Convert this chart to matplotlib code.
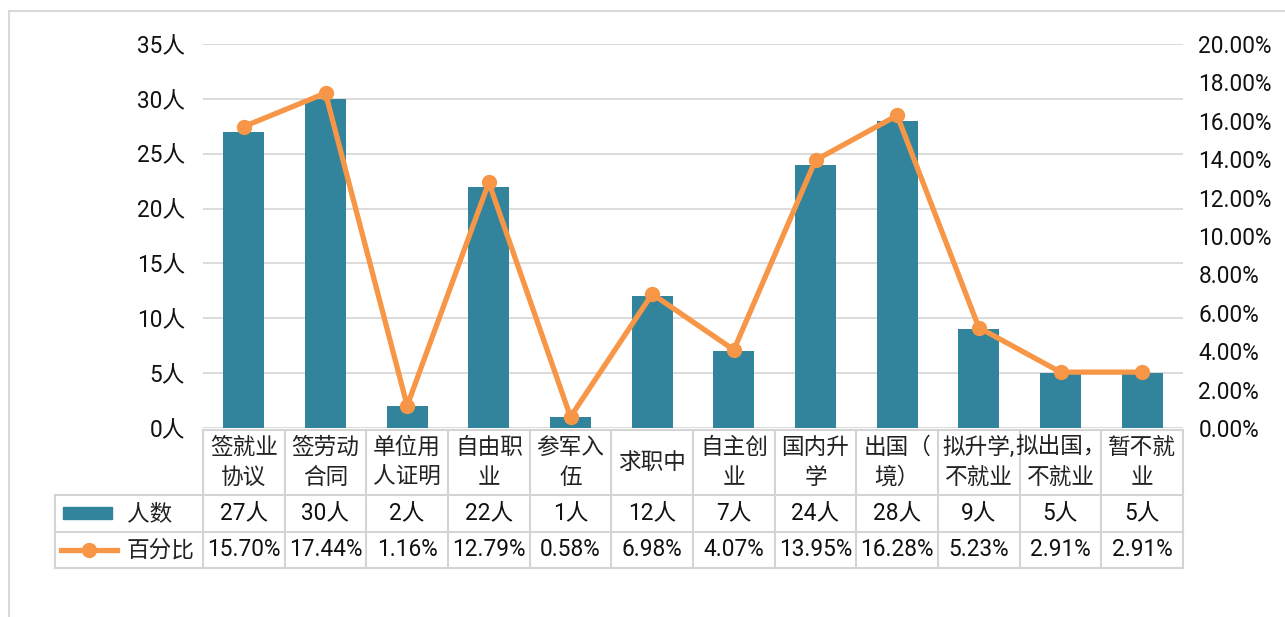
import matplotlib
matplotlib.use("Agg")
import matplotlib.pyplot as plt
from matplotlib.ticker import FuncFormatter, MultipleLocator
from matplotlib.patches import Rectangle

plt.rcParams['font.family'] = ['Roboto', 'Noto Sans CJK SC', 'DejaVu Sans']

categories = ["签就业\n协议", "签劳动\n合同", "单位用\n人证明", "自由职\n业", "参军入\n伍", "求职中",
              "自主创\n业", "国内升\n学", "出国（\n境）", "拟升学,\n不就业", "拟出国，\n不就业", "暂不就\n业"]
counts = [27, 30, 2, 22, 1, 12, 7, 24, 28, 9, 5, 5]
percents = [15.70, 17.44, 1.16, 12.79, 0.58, 6.98, 4.07, 13.95, 16.28, 5.23, 2.91, 2.91]
series_names = ["人数", "百分比"]

BAR_C = "#31849B"
LINE_C = "#F79646"
GRID_C = "#D9D9D9"
FS = 16.3

W, H = 1285, 617
fig = plt.figure(figsize=(W / 100, H / 100), dpi=100)

X0, X1 = 203, 1183
YT, YB = 44, 428
ax = fig.add_axes([X0 / W, 1 - YB / H, (X1 - X0) / W, (YB - YT) / H])
n = len(categories)
xs = list(range(n))
ax.bar(xs, counts, width=0.5, color=BAR_C, zorder=2)
ax.set_xlim(-0.5, n - 0.5)
ax.set_ylim(0, 35)
ax.yaxis.set_major_locator(MultipleLocator(5))
ax.yaxis.set_major_formatter(FuncFormatter(lambda v, p: f"{int(v)}人"))
ax.grid(axis='y', color=GRID_C, lw=1.3, zorder=0)
for s in ax.spines.values():
    s.set_visible(False)
ax.tick_params(axis='y', length=0, labelsize=FS, pad=13, labelcolor="#111111")
ax.set_xticks([])

ax2 = ax.twinx()
ax2.plot(xs, percents, color=LINE_C, lw=3.8, marker='o', ms=10, zorder=3)
ax2.set_ylim(0, 20)
ax2.yaxis.set_major_locator(MultipleLocator(2))
ax2.yaxis.set_major_formatter(FuncFormatter(lambda v, p: f"{v:.2f}%"))
for s in ax2.spines.values():
    s.set_visible(False)
ax2.tick_params(axis='y', length=0, labelsize=FS, pad=11, labelcolor="#111111")
ax.set_zorder(1)
ax2.set_zorder(2)

# overlay for table and frame
ov = fig.add_axes([0, 0, 1, 1], zorder=0)
ov.set_xlim(0, W)
ov.set_ylim(H, 0)
ov.axis('off')

# outer frame
ov.plot([8.5, 8.5], [11, H], color=GRID_C, lw=1.5)
ov.plot([8.5, W], [11, 11], color=GRID_C, lw=1.5)

TC = "#D4D4D4"
LX = 55
y_head, y_r1, y_r2, y_end = 430, 495, 532, 568
cw = (X1 - X0) / n
ov.plot([X0, X1], [y_head, y_head], color=TC, lw=1.5)
for y in (y_r1, y_r2, y_end):
    ov.plot([LX, X1], [y, y], color=TC, lw=1.5)
ov.plot([LX, LX], [y_r1, y_end], color=TC, lw=1.5)
for i in range(n + 1):
    x = X0 + i * cw
    ov.plot([x, x], [y_head, y_end], color=TC, lw=1.5)

for i in range(n):
    cx = X0 + (i + 0.5) * cw
    ov.text(cx, (y_head + y_r1) / 2 , categories[i], ha='center', va='center',
            fontsize=FS, linespacing=1.4, color="#222222")
    ov.text(cx, (y_r1 + y_r2) / 2, f"{counts[i]}人", ha='center', va='center', fontsize=FS, color="#111111")
    ov.text(cx, (y_r2 + y_end) / 2, f"{percents[i]:.2f}%", ha='center', va='center', fontsize=FS, color="#111111")

# legend keys
ov.add_patch(Rectangle((63, 507), 49, 12, color=BAR_C))
ov.text(127, (y_r1 + y_r2) / 2, series_names[0], ha='left', va='center', fontsize=FS, color="#222222")
ov.plot([61, 117], [550, 550], color=LINE_C, lw=3.8)
ov.plot([89], [550], marker='o', color=LINE_C, ms=10)
ov.text(127, (y_r2 + y_end) / 2, series_names[1], ha='left', va='center', fontsize=FS, color="#222222")

fig.savefig("out.png", dpi=100)
